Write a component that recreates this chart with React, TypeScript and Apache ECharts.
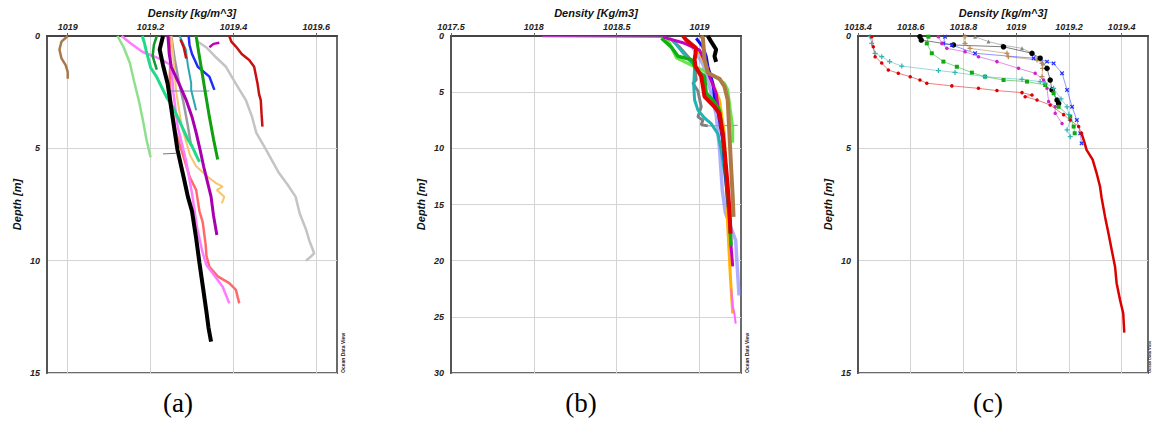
import React, { useEffect, useRef } from "react";
import * as echarts from "echarts";

// ---------- texts ----------
const xTitles = ["Density [kg/m^3]", "Density [Kg/m3]", "Density [kg/m^3]"];
const yTitle = "Depth [m]";
const panelLetters = ["(a)", "(b)", "(c)"];
const odvLabel = "Ocean Data View";

// ---------- axis ticks ----------
const xTicksA = [1019, 1019.2, 1019.4, 1019.6];
const xTicksB = [1017.5, 1018, 1018.5, 1019];
const xTicksC = [1018.4, 1018.6, 1018.8, 1019, 1019.2, 1019.4];
const yTicksA = [0, 5, 10, 15];
const yTicksB = [0, 5, 10, 15, 20, 25, 30];
const yTicksC = [0, 5, 10, 15];

// ---------- panel (a) profiles: [density, depth] ----------
const aBrown = [[1019.0, 0], [1018.985, 0.25], [1018.98, 0.6], [1018.985, 1.0], [1018.995, 1.3], [1019.0, 1.6], [1019.0, 1.9]];
const aLightGreen = [[1019.12, 0], [1019.135, 0.5], [1019.15, 1.2], [1019.16, 2.0], [1019.172, 2.9], [1019.182, 3.8], [1019.19, 4.6], [1019.2, 5.4]];
const aSeaGreen = [[1019.18, 0], [1019.185, 0.3], [1019.19, 0.7], [1019.2, 1.4], [1019.214, 1.8], [1019.238, 2.7], [1019.255, 3.2], [1019.27, 3.8], [1019.29, 4.6], [1019.3, 4.9], [1019.31, 5.3], [1019.318, 5.6]];
const aDarkGreenShort = [[1019.215, 0], [1019.208, 0.4], [1019.205, 0.9], [1019.215, 1.5]];
const aPink = [[1019.13, 0], [1019.15, 0.3], [1019.18, 0.7], [1019.22, 1.0], [1019.25, 1.3], [1019.255, 2.5], [1019.265, 4.0], [1019.285, 5.5], [1019.3, 7.0], [1019.312, 8.5], [1019.325, 9.6], [1019.335, 10.2], [1019.35, 10.56], [1019.374, 11.16], [1019.39, 11.9]];
const aSalmon = [[1019.245, 0], [1019.248, 1.0], [1019.246, 2.0], [1019.25, 3.0], [1019.26, 4.2], [1019.28, 5.4], [1019.295, 6.3], [1019.31, 6.85], [1019.318, 7.8], [1019.326, 8.3], [1019.333, 9.3], [1019.335, 9.8], [1019.342, 10.27], [1019.362, 10.7], [1019.39, 11.0], [1019.406, 11.3], [1019.414, 11.9]];
const aBlack = [[1019.23, 0], [1019.222, 0.6], [1019.23, 1.3], [1019.241, 2.1], [1019.253, 3.6], [1019.265, 5.07], [1019.28, 6.3], [1019.29, 7.15], [1019.3, 7.8], [1019.31, 9.0], [1019.318, 10.1], [1019.325, 11.0], [1019.335, 12.3], [1019.34, 13.0], [1019.346, 13.6]];
const aPurple = [[1019.242, 0], [1019.245, 0.8], [1019.25, 1.37], [1019.268, 2.1], [1019.286, 2.85], [1019.3, 3.6], [1019.31, 4.3], [1019.32, 5.1], [1019.328, 5.8], [1019.346, 7.15], [1019.352, 8.0], [1019.36, 8.86]];
const aGreen = [[1019.31, 0], [1019.316, 0.7], [1019.322, 1.37], [1019.332, 2.5], [1019.342, 3.6], [1019.352, 4.6], [1019.362, 5.5]];
const aBlue = [[1019.292, 0], [1019.294, 0.4], [1019.3, 0.8], [1019.314, 1.37], [1019.342, 1.81], [1019.354, 2.4]];
const aTeal = [[1019.27, 0], [1019.285, 0.6], [1019.29, 1.3], [1019.298, 2.1], [1019.298, 2.4], [1019.31, 3.3]];
const aSpike = [[1019.246, 2.45], [1019.342, 2.45]];
const aGray = [[1019.31, 0.2], [1019.334, 0.5], [1019.355, 0.9], [1019.382, 1.37], [1019.405, 2.1], [1019.43, 2.85], [1019.445, 3.6], [1019.455, 4.3], [1019.479, 5.07], [1019.51, 6.1], [1019.53, 6.6], [1019.55, 7.15], [1019.56, 7.9], [1019.575, 8.6], [1019.583, 9.1], [1019.595, 9.67], [1019.585, 9.85], [1019.575, 10.0]];
const aDarkRed = [[1019.39, 0], [1019.395, 0.25], [1019.406, 0.47], [1019.42, 0.8], [1019.438, 1.07], [1019.45, 1.37], [1019.458, 2.1], [1019.462, 2.6], [1019.466, 2.85], [1019.468, 3.5], [1019.47, 4.03]];
const aRedShort = [[1019.272, 0.15], [1019.28, 0.5], [1019.286, 1.0]];
const aMagentaShort = [[1019.342, 0.5], [1019.352, 0.35], [1019.366, 0.3]];
const aOrange = [[1019.25, 0], [1019.255, 1], [1019.262, 2.5], [1019.275, 4], [1019.295, 5.3], [1019.31, 5.8], [1019.34, 6.3], [1019.358, 6.55], [1019.374, 6.7], [1019.36, 6.85], [1019.378, 7.15], [1019.372, 7.45]];
const aSlate = [[1019.25, 0], [1019.258, 1], [1019.268, 2], [1019.28, 3], [1019.29, 4], [1019.298, 4.9]];
const aGrayTiny = [[1019.23, 5.25], [1019.262, 5.22]];

// ---------- panel (b) profiles ----------
const bSurface = [[1018.05, 0.05], [1018.78, 0.1]];
const bRed = [[1018.9, 0], [1018.92, 0.36], [1018.98, 1.1], [1018.97, 2.1], [1018.975, 2.7], [1019.01, 3.6], [1019.02, 4.5], [1019.03, 5.4], [1019.09, 6.3], [1019.12, 6.9], [1019.14, 8.7], [1019.15, 10.1], [1019.17, 13.4], [1019.18, 15.5], [1019.187, 17.6]];
const bBrown = [[1019.01, 0], [1019.02, 0.2], [1019.03, 2.1], [1019.05, 3.3], [1019.12, 3.8], [1019.15, 4.5], [1019.17, 5.7], [1019.18, 8.7], [1019.19, 11.6], [1019.2, 14.3], [1019.205, 16.1]];
const bBlack = [[1019.05, 0], [1019.07, 0.5], [1019.1, 1.2], [1019.09, 1.8], [1019.1, 2.3]];
const bGreen = [[1018.77, 0.2], [1018.83, 1.0], [1018.87, 1.8], [1018.95, 2.1], [1018.98, 3.0], [1019.03, 3.6], [1019.04, 5.1], [1019.08, 5.7], [1019.12, 6.6], [1019.14, 8.7], [1019.165, 13.1], [1019.18, 16], [1019.187, 17.9], [1019.19, 18.7]];
const bLightGreen = [[1018.8, 0.3], [1018.82, 0.65], [1018.86, 1.95], [1018.95, 2.6], [1019.06, 3.3], [1019.15, 4.2], [1019.17, 4.8], [1019.185, 6.5], [1019.2, 8.1], [1019.2, 9.5]];
const bGray = [[1018.82, 0.2], [1018.88, 1.0], [1018.94, 2.0], [1018.97, 2.7], [1018.98, 3.9], [1018.96, 4.2], [1018.99, 4.9], [1019.01, 6.3], [1018.99, 7.2], [1019.02, 7.5], [1019.01, 7.9], [1019.05, 8.0]];
const bSpike = [[1019.05, 8.0], [1019.23, 7.95]];
const bTeal = [[1018.84, 0.4], [1018.9, 1.5], [1018.97, 2.7], [1018.965, 4.5], [1018.97, 5.7], [1018.99, 6.6], [1019.03, 7.3], [1019.07, 7.8], [1019.11, 8.7], [1019.13, 10.1], [1019.16, 13.1], [1019.175, 16]];
const bBlue = [[1018.98, 0.2], [1019.02, 1.0], [1019.04, 1.8], [1019.05, 2.7], [1019.08, 4.2], [1019.09, 5.4], [1019.11, 6.6], [1019.14, 9.3], [1019.16, 13.1], [1019.175, 15.5]];
const bMagenta = [[1018.78, 0.1], [1018.91, 0.65], [1019.0, 1.25], [1019.04, 2.5], [1019.06, 3.6], [1019.1, 5.1], [1019.12, 7.2], [1019.15, 10.1], [1019.165, 13.1], [1019.185, 17], [1019.19, 18.7], [1019.2, 20.5]];
const bOrange = [[1018.93, 0.4], [1019.0, 1.5], [1019.04, 2.7], [1019.08, 4.2], [1019.12, 5.7], [1019.15, 8.7], [1019.16, 13.1], [1019.17, 17], [1019.187, 21.7], [1019.2, 24.7]];
const bLavender = [[1018.95, 0.8], [1019.02, 2.5], [1019.06, 4.5], [1019.1, 7], [1019.12, 10], [1019.137, 13.7], [1019.155, 15.7], [1019.218, 18.2], [1019.225, 20], [1019.238, 23.1]];
const bPink = [[1019.19, 22.5], [1019.2, 24], [1019.21, 24.7], [1019.218, 25.6]];

// ---------- panel (c) profiles ----------
const cRedUpper = [[1018.452, 0.03], [1018.458, 0.48], [1018.465, 0.92], [1018.49, 1.2], [1018.515, 1.51], [1018.553, 1.66], [1018.598, 1.81], [1018.635, 1.96], [1018.661, 2.1], [1018.756, 2.22], [1018.857, 2.33], [1018.927, 2.43], [1019.022, 2.52], [1019.06, 2.63], [1019.034, 2.7], [1019.079, 2.85], [1019.129, 3.07], [1019.18, 3.5], [1019.205, 3.74], [1019.237, 4.03], [1019.248, 4.33]];
const cRedDeep = [[1019.248, 4.33], [1019.258, 4.7], [1019.267, 5.07], [1019.29, 5.5], [1019.305, 6.1], [1019.318, 6.7], [1019.324, 7.2], [1019.337, 8.04], [1019.35, 8.78], [1019.362, 9.5], [1019.375, 10.27], [1019.381, 11.0], [1019.394, 11.75], [1019.406, 12.34], [1019.41, 13.2]];
const cTeal = [[1018.446, 0.03], [1018.452, 0.33], [1018.465, 0.77], [1018.49, 0.92], [1018.52, 1.14], [1018.566, 1.34], [1018.705, 1.54], [1018.768, 1.62], [1018.882, 1.81], [1019.022, 1.93], [1019.091, 2.03], [1019.11, 2.1], [1019.142, 2.33], [1019.17, 2.8], [1019.193, 3.15], [1019.2, 3.5], [1019.205, 3.74], [1019.193, 4.18], [1019.205, 4.48]];
const cGreen = [[1018.667, 0.03], [1018.661, 0.33], [1018.68, 0.77], [1018.724, 1.14], [1018.775, 1.37], [1018.832, 1.63], [1018.882, 1.81], [1018.952, 1.96], [1019.041, 2.03], [1019.11, 2.18], [1019.142, 2.55], [1019.161, 3.15], [1019.205, 3.59], [1019.218, 4.03], [1019.222, 4.33]];
const cMagenta = [[1018.705, 0.03], [1018.718, 0.33], [1018.737, 0.55], [1018.806, 0.7], [1018.857, 0.92], [1018.927, 1.14], [1019.009, 1.44], [1019.072, 1.66], [1019.104, 1.96], [1019.117, 2.33], [1019.123, 2.92], [1019.148, 3.15], [1019.148, 3.44], [1019.174, 3.89]];
const cBlue = [[1018.73, 0.03], [1018.724, 0.33], [1018.756, 0.4], [1018.844, 0.77], [1019.066, 0.99], [1019.117, 1.14], [1019.142, 1.22], [1019.174, 1.66], [1019.193, 2.4], [1019.212, 3.15], [1019.23, 3.74], [1019.243, 4.33], [1019.248, 4.78]];
const cBlack = [[1018.635, 0.03], [1018.64, 0.18], [1018.762, 0.4], [1018.952, 0.48], [1019.06, 0.77], [1019.091, 0.99], [1019.117, 1.44], [1019.129, 1.96], [1019.136, 2.4], [1019.155, 2.85], [1019.161, 3.0]];
const cBrown = [[1018.806, 0.03], [1018.806, 0.33], [1018.825, 0.55], [1018.965, 0.77], [1018.97, 0.92], [1019.079, 1.07], [1019.098, 1.22], [1019.1, 1.44], [1019.098, 1.81]];
const cGray = [[1018.844, 0.03], [1018.895, 0.25], [1018.946, 0.4], [1019.022, 0.55], [1019.06, 0.77], [1019.1, 1.22]];

// ---------- layout ----------
const PANEL_LEFT = [47, 451, 858];
const PANEL_TOP = 36;
const PANEL_W = 290;
const PANEL_H = 337;
const X_RANGES = [[1018.95, 1019.65], [1017.5, 1019.25], [1018.4, 1019.5]];
const Y_MAX = [15, 30, 15];
const X_TICKS = [xTicksA, xTicksB, xTicksC];
const Y_TICKS = [yTicksA, yTicksB, yTicksC];
const LETTER_X = [178, 581, 988];
const ODV_X = [343, 747, 1151.5];

const PLUS = "path://M3,0H5V3H8V5H5V8H3V5H0V3H3Z";
const FONT = "'Liberation Sans', Arial, sans-serif";

function fmt(v: number) {
  return String(Number(v.toFixed(2)));
}

type S = { p: number; d: number[][]; c: string; w?: number; sym?: string; ss?: number; rot?: number; lop?: number };

const seriesDefs: S[] = [
  // panel a
  { p: 0, d: aGray, c: "#c4c4c4", w: 2.5 },
  { p: 0, d: aBrown, c: "#a8794a", w: 2.5 },
  { p: 0, d: aLightGreen, c: "#8ee08e", w: 2.5 },
  { p: 0, d: aSlate, c: "#9a9aa8", w: 2.5 },
  { p: 0, d: aOrange, c: "#f7c66e", w: 2 },
  { p: 0, d: aSalmon, c: "#ff6b6b", w: 2.5 },
  { p: 0, d: aPink, c: "#ff7bff", w: 2.5 },
  { p: 0, d: aSpike, c: "#6f8fb0", w: 1 },
  { p: 0, d: aTeal, c: "#2aa9ad", w: 2 },
  { p: 0, d: aSeaGreen, c: "#22d98a", w: 3 },
  { p: 0, d: aDarkGreenShort, c: "#159a2a", w: 2.5 },
  { p: 0, d: aBlue, c: "#1f2cff", w: 2.5 },
  { p: 0, d: aGreen, c: "#10a010", w: 3 },
  { p: 0, d: aPurple, c: "#a800b0", w: 3 },
  { p: 0, d: aBlack, c: "#000000", w: 4 },
  { p: 0, d: aDarkRed, c: "#c81212", w: 2.5 },
  { p: 0, d: aRedShort, c: "#c81212", w: 2.5 },
  { p: 0, d: aMagentaShort, c: "#c000c0", w: 2.5 },
  { p: 0, d: aGrayTiny, c: "#777777", w: 1 },
  // panel b
  { p: 1, d: bSurface, c: "#b040c0", w: 1.2 },
  { p: 1, d: bLavender, c: "#8c8cff", w: 3.5, lop: 0.7 },
  { p: 1, d: bSpike, c: "#9aa0a0", w: 1.2 },
  { p: 1, d: bGray, c: "#808080", w: 3 },
  { p: 1, d: bTeal, c: "#22b2b2", w: 3 },
  { p: 1, d: bLightGreen, c: "#66e64a", w: 3 },
  { p: 1, d: bOrange, c: "#ffb400", w: 3 },
  { p: 1, d: bPink, c: "#ff66ff", w: 2 },
  { p: 1, d: bBlue, c: "#1010ee", w: 3 },
  { p: 1, d: bMagenta, c: "#c400c4", w: 3 },
  { p: 1, d: bGreen, c: "#10b010", w: 3.5 },
  { p: 1, d: bBlack, c: "#000000", w: 4 },
  { p: 1, d: bBrown, c: "#b07a44", w: 4 },
  { p: 1, d: bRed, c: "#e00000", w: 4 },
  // panel c
  { p: 2, d: cGray, c: "#888888", w: 1, sym: "triangle", ss: 4, lop: 0.6 },
  { p: 2, d: cBrown, c: "#b98a5a", w: 1, sym: PLUS, ss: 5, lop: 0.6 },
  { p: 2, d: cBlack, c: "#000000", w: 1, sym: "circle", ss: 5.5, lop: 0.5 },
  { p: 2, d: cBlue, c: "#2030ff", w: 1, sym: PLUS, ss: 5, rot: 45, lop: 0.5 },
  { p: 2, d: cMagenta, c: "#cc22cc", w: 1, sym: "circle", ss: 3.5, lop: 0.5 },
  { p: 2, d: cGreen, c: "#10aa10", w: 1, sym: "rect", ss: 4, lop: 0.5 },
  { p: 2, d: cTeal, c: "#33b5b5", w: 1, sym: PLUS, ss: 5, lop: 0.5 },
  { p: 2, d: cRedUpper, c: "#dd0000", w: 1, sym: "circle", ss: 3.5, lop: 0.5 },
  { p: 2, d: cRedDeep, c: "#dd0000", w: 2.5 },
];

export default function App() {
  const ref = useRef<HTMLDivElement>(null);
  useEffect(() => {
    if (!ref.current) return;
    const chart = echarts.init(ref.current, undefined, { renderer: "svg" });
    const labelStyle = { fontFamily: FONT, fontStyle: "italic" as const, fontWeight: "bold" as const, fontSize: 9, color: "#222" };
    const grids = PANEL_LEFT.map((l) => ({
      left: l, top: PANEL_TOP, width: PANEL_W, height: PANEL_H,
      show: true, borderColor: "#6a6a6a", borderWidth: 2, backgroundColor: "#fff",
    }));
    const xAxes = [0, 1, 2].map((i) => ({
      type: "value" as const, gridIndex: i, position: "top" as const,
      min: X_RANGES[i][0], max: X_RANGES[i][1],
      axisLine: { show: true, lineStyle: { color: "#444", width: 2 } },
      axisTick: { show: true, customValues: X_TICKS[i], length: 3, lineStyle: { color: "#666" } },
      axisLabel: { ...labelStyle, customValues: X_TICKS[i], margin: 5, formatter: (v: number) => fmt(v) },
      splitLine: { show: true, lineStyle: { color: "#d4d4d4", width: 1 } },
    }));
    const yAxes = [0, 1, 2].map((i) => ({
      type: "value" as const, gridIndex: i, inverse: true,
      min: 0, max: Y_MAX[i],
      axisLine: { show: true, lineStyle: { color: "#555", width: 2 } },
      axisTick: { show: false, customValues: Y_TICKS[i] },
      axisLabel: { ...labelStyle, customValues: Y_TICKS[i], margin: 7, formatter: (v: number) => fmt(v) },
      splitLine: { show: true, lineStyle: { color: "#d4d4d4", width: 1 } },
    }));
    const series = seriesDefs.map((s) => ({
      type: "line" as const,
      xAxisIndex: s.p, yAxisIndex: s.p,
      data: s.d,
      showSymbol: !!s.sym,
      symbol: s.sym || "none",
      symbolSize: s.ss || 0,
      symbolRotate: s.rot || 0,
      itemStyle: { color: s.c },
      lineStyle: { color: s.c, width: s.w || 2, opacity: s.lop ?? 1 },
      silent: true,
      clip: true,
    }));
    const graphics: any[] = [];
    for (let i = 0; i < 3; i++) {
      const cx = PANEL_LEFT[i] + PANEL_W / 2;
      graphics.push({
        type: "text", x: cx, y: 13,
        style: { text: xTitles[i], font: `italic bold 11px ${FONT}`, fill: "#111", align: "center", verticalAlign: "middle" },
      });
      graphics.push({
        type: "text", x: PANEL_LEFT[i] - 30, y: PANEL_TOP + PANEL_H / 2, rotation: Math.PI / 2,
        style: { text: yTitle, font: `italic bold 11px ${FONT}`, fill: "#111", align: "center", verticalAlign: "middle" },
      });
      graphics.push({
        type: "text", x: ODV_X[i], y: PANEL_TOP + PANEL_H, rotation: Math.PI / 2,
        style: { text: odvLabel, font: `bold ${i === 2 ? 4 : 5}px ${FONT}`, fill: "#222", align: "left", verticalAlign: i === 2 ? "bottom" : "middle" },
      });
      graphics.push({
        type: "text", x: LETTER_X[i], y: 403,
        style: { text: panelLetters[i], font: `27px 'Liberation Serif', 'Times New Roman', serif`, fill: "#000", align: "center", verticalAlign: "middle" },
      });
    }
    chart.setOption({
      animation: false,
      backgroundColor: "#ffffff",
      grid: grids,
      xAxis: xAxes,
      yAxis: yAxes,
      series,
      graphic: graphics,
    });
    return () => chart.dispose();
  }, []);
  return <div ref={ref} style={{ position: "absolute", left: 0, top: 0, width: 1152, height: 421 }} />;
}
